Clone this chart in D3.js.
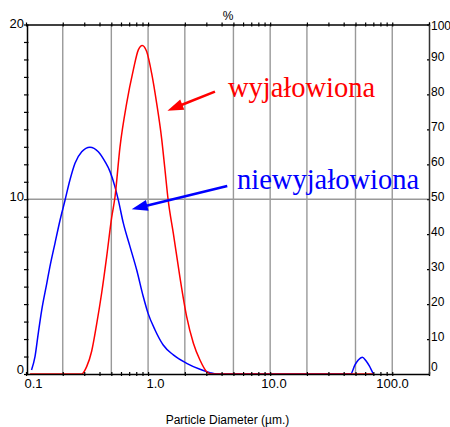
<!DOCTYPE html>
<html>
<head>
<meta charset="utf-8">
<script src="https://cdn.jsdelivr.net/npm/d3@7/dist/d3.min.js"></script>
<style>
  html, body { margin: 0; padding: 0; background: #fff; }
  svg { display: block; font-family: "Liberation Sans", Arial, sans-serif; }
</style>
</head>
<body>
<svg id="chart" width="450" height="427"></svg>
<script>
// Particle size distribution (volume %), sterilised vs. non-sterilised sample
const redSize = [0.108, 0.286, 0.314, 0.345, 0.379, 0.417, 0.458, 0.503, 0.535, 0.589, 0.668, 0.757,
                 0.832, 0.896, 0.974, 1.07, 1.175, 1.29, 1.37, 1.46, 1.61, 1.82, 2.07, 2.35, 2.66,
                 3.02, 3.3, 69.5];
const redPct  = [0, 0, 0.42, 1.3, 2.85, 4.65, 6.72, 8.95, 10.1, 13.0, 15.5, 17.4,
                 18.55, 18.8, 18.45, 17.2, 15.5, 13.5, 11.8, 9.96, 8.05, 5.57, 3.28, 1.76, 0.8,
                 0.13, 0, 0];

const blueSize = [0.111, 0.1185, 0.126, 0.1345, 0.148, 0.157, 0.1727, 0.19, 0.209, 0.229, 0.252,
                  0.286, 0.334, 0.391, 0.444, 0.488, 0.535, 0.57, 0.627, 0.711, 0.807, 0.914, 1.0,
                  1.14, 1.33, 1.61, 2.07, 2.66, 3.21, 3.65, 45.6, 49.5, 52.7, 56.8, 60.9, 64.9, 69.9];
const bluePct  = [0.23, 0.99, 2.33, 3.66, 5.19, 6.14, 7.48, 8.8, 9.96, 11.1, 12.06,
                  12.72, 12.98, 12.72, 12.15, 11.58, 10.72, 9.96, 8.63, 7.29, 5.95, 4.42, 3.47,
                  2.52, 1.66, 1.09, 0.61, 0.27, 0.08, 0, 0, 0.52, 0.80, 0.96, 0.76, 0.46, 0];

const xDomain = [0.1, 200];
const leftTicks = d3.range(0, 21);
const leftLabels = [0, 10, 20];
const rightTicks = d3.range(0, 101, 10);
const gridSizes = [0.2, 0.5, 1, 2, 5, 10, 20, 50, 100];
const gridPct = [10];
const bottomLabels = [0.1, 1, 10, 100];

// Callouts: arrow start (size, %), arrow tip (size, %), text anchor (size, %)
const notes = [
  { text: "wyjałowiona", color: "#ff0000", from: [3.53, 16.16], to: [1.44, 15.07], at: [4.51, 15.85] },
  { text: "niewyjałowiona", color: "#0000ff", from: [4.45, 10.76], to: [0.734, 9.43], at: [5.35, 10.6] }
];

const svg = d3.select("#chart");
const L = 27, R = 429, T = 24.5, B = 374;

const x = d3.scaleLog().domain(xDomain).range([L - 1, R]);
const y = d3.scaleLinear().domain([0, 20]).range([B, T]);
const yPct = d3.scaleLinear().domain([0, 100]).range([B, T]);

// minor ticks 1..9 per decade
const minorTicks = [];
for (let e = -1; e <= 2; e++) {
  for (let k = 1; k <= 9; k++) {
    const v = +(k * Math.pow(10, e)).toPrecision(3);
    if (v >= xDomain[0] && v <= xDomain[1]) minorTicks.push(v);
  }
}
minorTicks.push(200);

// gridlines
const grid = svg.append("g").attr("stroke", "#999").attr("stroke-width", 1.4);
grid.selectAll("line.v").data(gridSizes).join("line")
  .attr("x1", d => x(d)).attr("x2", d => x(d)).attr("y1", T).attr("y2", B);
grid.selectAll("line.h").data(gridPct).join("line")
  .attr("x1", L).attr("x2", R).attr("y1", d => y(d)).attr("y2", d => y(d));

// curves
const line = d3.line().x(d => x(d[0])).y(d => y(d[1])).curve(d3.curveMonotoneX);
svg.append("path").datum(d3.zip(blueSize, bluePct))
  .attr("d", line).attr("fill", "none").attr("stroke", "#0000ff").attr("stroke-width", 1.5);
svg.append("path").datum(d3.zip(redSize, redPct))
  .attr("d", line).attr("fill", "none").attr("stroke", "#ff0000").attr("stroke-width", 1.5);

// axes
const fmtSize = d => bottomLabels.includes(d) ? (d < 1 ? d.toString() : d.toFixed(1)) : "";

const gb = svg.append("g").attr("transform", `translate(0,${B})`)
  .call(d3.axisBottom(x).tickValues(minorTicks).tickFormat(fmtSize).tickSize(2).tickSizeOuter(0));
gb.selectAll(".tick line").attr("y1", -2);
gb.selectAll(".tick text").attr("dy", null).attr("y", 14).attr("x", 16)
  .attr("text-anchor", "end").style("font-size", "13px");

const gt = svg.append("g").attr("transform", `translate(0,${T})`)
  .call(d3.axisTop(x).tickValues(minorTicks).tickFormat("").tickSize(2).tickSizeOuter(0));
gt.selectAll(".tick line").attr("y1", 2);

const gl = svg.append("g").attr("transform", `translate(${L},0)`)
  .call(d3.axisLeft(y).tickValues(leftTicks)
    .tickFormat(d => leftLabels.includes(d) ? d : "").tickSize(3).tickSizeOuter(0));
gl.selectAll(".tick line").attr("x1", 1.5);
gl.selectAll(".tick text").attr("dy", null).attr("x", -3)
  .attr("y", d => Math.max(27, Math.min(373, y(d) + 1)) - y(d))
  .style("font-size", "13px");

const gr = svg.append("g").attr("transform", `translate(${R},0)`)
  .call(d3.axisRight(yPct).tickValues(rightTicks).tickSize(-2).tickSizeOuter(0));
gr.select(".domain").attr("stroke", "#333");
gr.selectAll(".tick text").attr("dy", null).attr("x", 2)
  .attr("y", d => Math.max(29, Math.min(370, yPct(d) + 1)) - yPct(d))
  .style("font-size", "12px");

svg.selectAll(".domain").attr("stroke-width", 1.5);
svg.selectAll(".tick line").attr("stroke-width", 1.2);
svg.selectAll(".tick text").attr("fill", "#000");

// axis titles
svg.append("text").attr("x", (L + R) / 2).attr("y", 20).attr("text-anchor", "middle")
  .attr("fill", "#000").style("font-size", "12px").text("%");
svg.append("text").attr("x", 227.5).attr("y", 424).attr("text-anchor", "middle")
  .attr("fill", "#000").style("font-size", "12px").text("Particle Diameter (µm.)");

// callouts
notes.forEach(n => {
  const x0 = x(n.from[0]), y0 = y(n.from[1]);
  const x1 = x(n.to[0]), y1 = y(n.to[1]);
  const len = Math.hypot(x1 - x0, y1 - y0);
  const ux = (x1 - x0) / len, uy = (y1 - y0) / len;
  const hl = 16, hw = 5.5;
  const bx = x1 - ux * hl, by = y1 - uy * hl;
  svg.append("line").attr("x1", x0).attr("y1", y0).attr("x2", bx + ux * 3).attr("y2", by + uy * 3)
    .attr("stroke", n.color).attr("stroke-width", 2.6);
  svg.append("polygon")
    .attr("points", [[x1, y1], [bx - uy * hw, by + ux * hw], [bx + uy * hw, by - ux * hw]].map(p => p.join(",")).join(" "))
    .attr("fill", n.color);
  svg.append("text").attr("x", x(n.at[0])).attr("y", y(n.at[1]))
    .attr("fill", n.color)
    .style("font-family", '"Liberation Serif", "Times New Roman", serif')
    .style("font-size", "28.5px")
    .text(n.text);
});
</script>
</body>
</html>
